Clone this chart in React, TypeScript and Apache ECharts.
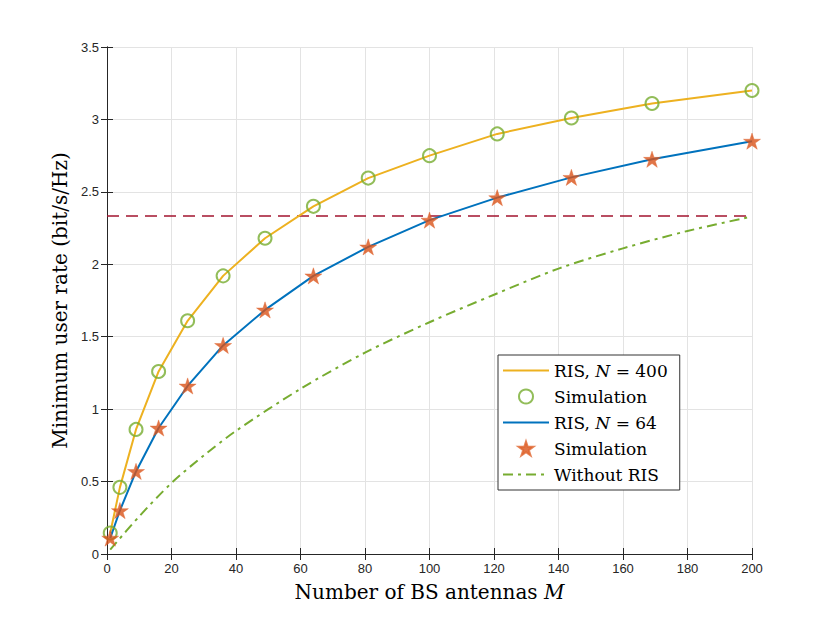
import React, { useEffect, useRef } from "react";
import * as echarts from "echarts";

const antennas = [1, 4, 9, 16, 25, 36, 49, 64, 81, 100, 121, 144, 169, 200];
const risN400 = [0.145, 0.46, 0.86, 1.26, 1.61, 1.92, 2.18, 2.4, 2.595, 2.75, 2.9, 3.01, 3.11, 3.2];
const simN400 = [0.145, 0.46, 0.86, 1.26, 1.61, 1.92, 2.18, 2.4, 2.595, 2.75, 2.9, 3.01, 3.11, 3.2];
const risN64 = [0.11, 0.3, 0.57, 0.87, 1.16, 1.44, 1.685, 1.92, 2.12, 2.305, 2.46, 2.6, 2.725, 2.85];
const simN64 = [0.11, 0.3, 0.57, 0.87, 1.16, 1.44, 1.685, 1.92, 2.12, 2.305, 2.46, 2.6, 2.725, 2.85];
const noRisM = [1, 10, 20, 30, 40, 60, 80, 100, 120, 140, 160, 180, 200];
const noRis = [0.03, 0.26, 0.49, 0.68, 0.85, 1.14, 1.39, 1.6, 1.79, 1.97, 2.11, 2.23, 2.33];
const thresholdM = [0, 200];
const threshold = [2.333, 2.333];

const legendLabels: Record<string, string> = {
  ris400: "{r|RIS, }{i|N}{r| = 400}",
  sim400: "{r|Simulation}",
  ris64: "{r|RIS, }{i|N}{r| = 64}",
  sim64: "{r|Simulation}",
  noris: "{r|Without RIS}",
};

const STAR =
  "path://M0,-1 L0.2245,-0.309 L0.951,-0.309 L0.363,0.118 L0.588,0.809 L0,0.382 L-0.588,0.809 L-0.363,0.118 L-0.951,-0.309 L-0.2245,-0.309 Z";

const pairs = (xs: number[], ys: number[]) => xs.map((x, i) => [x, ys[i]]);

const SERIF = "'DejaVu Serif', 'Liberation Serif', serif";
const SANS = "'Liberation Sans', Arial, sans-serif";

export default function App() {
  const ref = useRef<HTMLDivElement>(null);
  useEffect(() => {
    if (!ref.current) return;
    const chart = echarts.init(ref.current, null, { renderer: "svg" });
    const axisCommon = {
      type: "value" as const,
      axisLine: { show: true, lineStyle: { color: "#262626", width: 1 } },
      axisTick: { show: true, inside: true, length: 6, lineStyle: { color: "#262626" } },
    };
    const hideDot = { itemStyle: { opacity: 0 } };
    chart.setOption({
      animation: false,
      backgroundColor: "#ffffff",
      grid: { left: 99, right: 78, top: 39, bottom: 69 },
      xAxis: [
        {
          ...axisCommon,
          min: 0,
          max: 200,
          interval: 20,
          position: "bottom",
          axisLabel: { color: "#262626", fontSize: 13, fontFamily: SANS, margin: 8 },
          splitLine: { show: true, lineStyle: { color: "#e3e3e3", width: 1 } },
          name: "{r|Number of BS antennas }{i|M}",
          nameLocation: "middle",
          nameGap: 28,
          nameTextStyle: {
            rich: {
              r: { fontFamily: SERIF, fontSize: 20, color: "#000" },
              i: { fontFamily: SERIF, fontSize: 20, fontStyle: "italic", color: "#000" },
            },
          },
        },
        {
          ...axisCommon,
          min: 0,
          max: 200,
          interval: 20,
          position: "top",
          axisLabel: { show: false },
          splitLine: { show: false },
        },
      ],
      yAxis: [
        {
          ...axisCommon,
          min: 0,
          max: 3.5,
          interval: 0.5,
          position: "left",
          axisLabel: { color: "#262626", fontSize: 13, fontFamily: SANS, margin: 8 },
          splitLine: { show: true, lineStyle: { color: "#e3e3e3", width: 1 } },
          name: "Minimum user rate (bit/s/Hz)",
          nameLocation: "middle",
          nameGap: 36,
          nameTextStyle: { fontFamily: SERIF, fontSize: 20, color: "#000" },
        },
        {
          ...axisCommon,
          min: 0,
          max: 3.5,
          interval: 0.5,
          position: "right",
          axisLabel: { show: false },
          splitLine: { show: false },
        },
      ],
      legend: {
        orient: "vertical",
        left: 490,
        top: 347,
        padding: [7, 12, 7, 4],
        itemGap: 9,
        itemWidth: 46,
        itemHeight: 14,
        borderColor: "#333",
        borderWidth: 1,
        backgroundColor: "#ffffff",
        data: [
          { name: "ris400", ...hideDot },
          { name: "sim400" },
          { name: "ris64", ...hideDot },
          { name: "sim64" },
          { name: "noris", ...hideDot },
        ],
        formatter: (name: string) => legendLabels[name] || name,
        textStyle: {
          rich: {
            r: { fontFamily: SERIF, fontSize: 17, color: "#000" },
            i: { fontFamily: SERIF, fontSize: 17, fontStyle: "italic", color: "#000" },
          },
        },
      },
      series: [
        {
          name: "threshold",
          type: "line",
          data: pairs(thresholdM, threshold),
          symbol: "none",
          lineStyle: { color: "#A2142F", width: 1.5, type: [12, 7] },
          z: 1,
        },
        {
          name: "noris",
          type: "line",
          data: pairs(noRisM, noRis),
          symbol: "none",
          smooth: 0.3,
          lineStyle: { color: "#77AC30", width: 2, type: [10, 5, 3, 5] },
          itemStyle: { color: "#77AC30" },
          z: 2,
        },
        {
          name: "ris400",
          type: "line",
          data: pairs(antennas, risN400),
          symbol: "none",
          lineStyle: { color: "#EDB120", width: 2 },
          itemStyle: { color: "#EDB120" },
          z: 2,
        },
        {
          name: "ris64",
          type: "line",
          data: pairs(antennas, risN64),
          symbol: "none",
          lineStyle: { color: "#0072BD", width: 2 },
          itemStyle: { color: "#0072BD" },
          z: 2,
        },
        {
          name: "sim400",
          type: "scatter",
          data: pairs(antennas, simN400),
          symbol: "circle",
          symbolSize: 13,
          itemStyle: { color: "rgba(255,255,255,0)", borderColor: "#77AC30", borderWidth: 2 },
          z: 3,
        },
        {
          name: "sim64",
          type: "scatter",
          data: pairs(antennas, simN64),
          symbol: STAR,
          symbolKeepAspect: true,
          symbolSize: 17,
          itemStyle: { color: "#D95319", borderColor: "#E0652E", borderWidth: 0.5 },
          z: 3,
        },
      ],
    });
    return () => chart.dispose();
  }, []);
  return <div ref={ref} style={{ width: 822, height: 615 }} />;
}
